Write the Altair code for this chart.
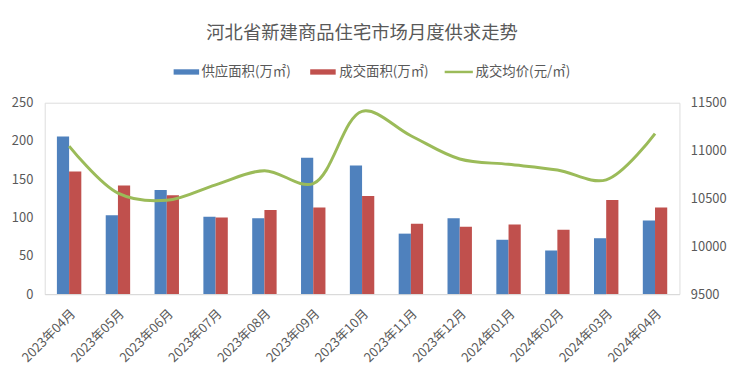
import altair as alt
import pandas as pd

months = ["2023年04月", "2023年05月", "2023年06月", "2023年07月", "2023年08月",
          "2023年09月", "2023年10月", "2023年11月", "2023年12月", "2024年01月",
          "2024年02月", "2024年03月", "2024年04月"]
supply = [206, 103, 136, 101, 99, 178, 168, 79, 99, 71, 57, 73, 96]
deal = [160, 142, 129, 100, 110, 113, 128, 92, 88, 91, 84, 123, 113]
price = [11047, 10555, 10480, 10642, 10790, 10655, 11410, 11155, 10912, 10856, 10797, 10694, 11177]

S1 = "供应面积(万㎡)"
S2 = "成交面积(万㎡)"
S3 = "成交均价(元/㎡)"
series_names = [S1, S2, S3]
colors = ["#4F81BD", "#C0504D", "#9BBB59"]

bars_df = pd.DataFrame(
    [{"month": m, "series": S1, "value": v} for m, v in zip(months, supply)]
    + [{"month": m, "series": S2, "value": v} for m, v in zip(months, deal)]
)
line_df = pd.DataFrame({"month": months, "price": price, "series": S3})

FONT = "Noto Sans CJK SC"
GRAY = "#595959"

color_scale = alt.Scale(domain=series_names, range=colors)
x_enc = alt.X("month:N", sort=months, title=None,
              scale=alt.Scale(paddingInner=0.5, paddingOuter=0.25),
              axis=alt.Axis(labelAngle=-45, ticks=False, domainColor="#D9D9D9",
                            labelColor=GRAY, labelFontSize=13, labelFont=FONT,
                            labelPadding=13))

bars = alt.Chart(bars_df).mark_bar().encode(
    x=x_enc,
    xOffset=alt.XOffset("series:N", sort=[S1, S2], scale=alt.Scale(paddingInner=0, paddingOuter=0)),
    y=alt.Y("value:Q", title=None,
            scale=alt.Scale(domain=[0, 250]),
            axis=alt.Axis(values=[0, 50, 100, 150, 200, 250], grid=False, domain=False,
                          ticks=False, labelColor=GRAY, labelFontSize=13, labelFont=FONT,
                          labelPadding=12)),
    color=alt.Color("series:N", scale=color_scale, legend=None),
)

line = alt.Chart(line_df).mark_line(interpolate="catmull-rom", strokeWidth=3).encode(
    x=alt.X("month:N", sort=months),
    y=alt.Y("price:Q", title=None,
            scale=alt.Scale(domain=[9500, 11500]),
            axis=alt.Axis(orient="right", values=[9500, 10000, 10500, 11000, 11500],
                          format="d", grid=False, domain=False, ticks=False, labelColor=GRAY,
                          labelFontSize=13, labelFont=FONT, labelPadding=11)),
    color=alt.Color("series:N", scale=color_scale, legend=None),
)

# manual legend
LEG_Y = -31

def leg_text(label, x):
    return alt.Chart(pd.DataFrame({"label": [label]})).mark_text(
        align="left", baseline="middle", font=FONT, fontSize=13.5, color=GRAY
    ).encode(text="label:N", x=alt.value(x), y=alt.value(LEG_Y))

def leg_rect(label, x, color):
    return alt.Chart(pd.DataFrame({"label": [label]})).mark_rect(color=color).encode(
        x=alt.value(x), x2=alt.value(x + 25.7), y=alt.value(LEG_Y - 2.7), y2=alt.value(LEG_Y + 2.7)
    )

leg_line = alt.Chart(pd.DataFrame({"label": [S3]})).mark_rule(
    color=colors[2], strokeWidth=2.5
).encode(x=alt.value(403.3), x2=alt.value(431.7), y=alt.value(LEG_Y))

legend_layers = [
    leg_rect(S1, 130, colors[0]), leg_text(S1, 158),
    leg_rect(S2, 267.7, colors[1]), leg_text(S2, 297),
    leg_line, leg_text(S3, 434.5),
]

chart = alt.layer(bars, line, *legend_layers).resolve_scale(y="independent").properties(
    width=640, height=193,
    padding={"top": 14, "left": 3, "right": 5, "bottom": 2},
    title=alt.TitleParams("河北省新建商品住宅市场月度供求走势", font=FONT, fontSize=18.5,
                          fontWeight="normal", color=GRAY, anchor="middle", offset=23),
).configure_view(stroke=None).configure(font=FONT)

chart.save("out.html", embed_options={"renderer": "svg", "actions": False})
